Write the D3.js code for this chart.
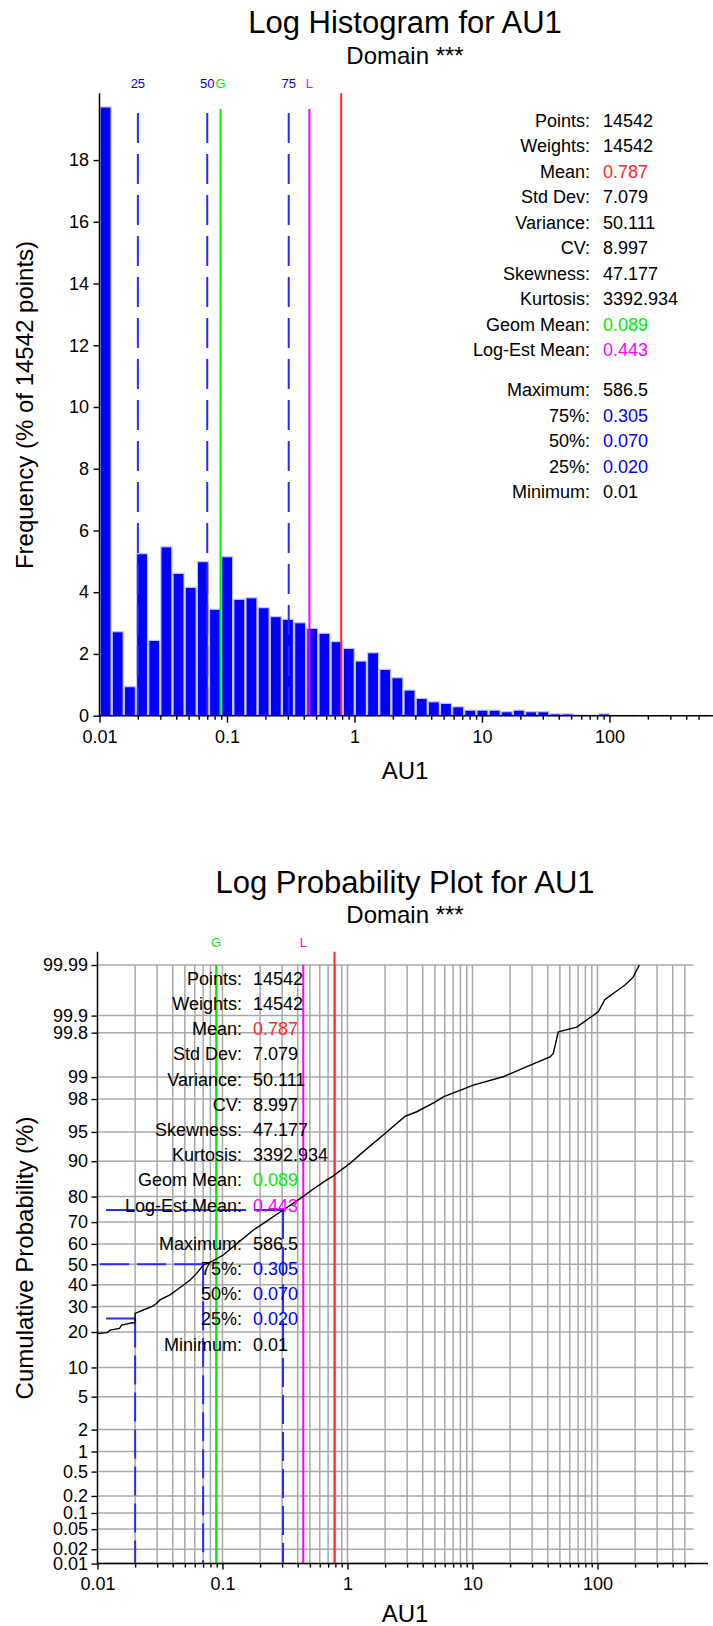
<!DOCTYPE html>
<html><head><meta charset="utf-8">
<script src="https://cdn.jsdelivr.net/npm/d3@7"></script>
<style>
body{margin:0;background:#fff;}
svg text{font-family:"Liberation Sans",Arial,Helvetica,sans-serif;fill:#000;}
</style></head><body>
<svg id="c" width="713" height="1626"></svg>
<script>
// ---------------- DATA ----------------
const varName = "AU1";
const domainLabel = "Domain ***";
const nPoints = 14542;
const dataMin = 0.01, dataMax = 586.5;
const binCount = 50;
// histogram frequencies (% of points) per log bin
const binFreq = [19.72, 2.72, 0.94, 5.25, 2.44, 5.47, 4.61, 4.16, 4.99, 3.45,
                 5.15, 3.77, 3.82, 3.50, 3.21, 3.12, 3.01, 2.83, 2.67, 2.40,
                 2.18, 1.77, 2.04, 1.50, 1.23, 0.83, 0.56, 0.45, 0.40, 0.29,
                 0.18, 0.18, 0.18, 0.13, 0.18, 0.13, 0.13, 0.06, 0.06, 0.02,
                 0.02, 0.06, 0.01, 0.01, 0, 0, 0.01, 0, 0, 0.01];
const histYTicks = [0, 2, 4, 6, 8, 10, 12, 14, 16, 18];
const xMajorTicks = [0.01, 0.1, 1, 10, 100];
const xMajorLabels = ["0.01", "0.1", "1", "10", "100"];

const statLabels = ["Points:", "Weights:", "Mean:", "Std Dev:", "Variance:", "CV:", "Skewness:",
                    "Kurtosis:", "Geom Mean:", "Log-Est Mean:", "Maximum:", "75%:", "50%:", "25%:", "Minimum:"];
const statValues = ["14542", "14542", "0.787", "7.079", "50.111", "8.997", "47.177",
                    "3392.934", "0.089", "0.443", "586.5", "0.305", "0.070", "0.020", "0.01"];
const statColorKeys = ["k", "k", "mean", "k", "k", "k", "k", "k", "geom", "logest", "k", "q", "q", "q", "k"];

const meanValue = 0.787, geomMean = 0.089, logEstMean = 0.443;
const quartileValues = [0.020, 0.070, 0.305];
const quartilePcts = [25, 50, 75];
const quartileLabels = ["25", "50", "75"];

// probability axis ticks (%)
const probTicks = [0.01, 0.02, 0.05, 0.1, 0.2, 0.5, 1, 2, 5, 10, 20, 30, 40, 50, 60, 70, 80, 90, 95, 98, 99, 99.8, 99.9, 99.99];
const probTickLabels = ["0.01", "0.02", "0.05", "0.1", "0.2", "0.5", "1", "2", "5", "10", "20", "30", "40", "50", "60", "70", "80", "90", "95", "98", "99", "99.8", "99.9", "99.99"];

// cumulative curve (value, cumulative %)
const cdfValue = [0.01, 0.012, 0.0126, 0.015, 0.0156, 0.019, 0.02, 0.02, 0.0232, 0.0271, 0.0298, 0.0316, 0.038, 0.043, 0.05, 0.055, 0.0622, 0.0702, 0.0819, 0.1014, 0.1296, 0.1766, 0.22, 0.27, 0.305, 0.336, 0.418, 0.52, 0.65, 0.77, 1.047, 1.25, 1.995, 2.884, 3.58, 5.01, 5.84, 10.15, 17.6, 25.5, 41.7, 44.3, 48.6, 68.2, 101.5, 114.8, 166, 193, 216];
const cdfPct   = [19.5, 19.8, 20.7, 21.3, 22.5, 23.4, 23.4, 27.1, 28.5, 29.9, 31.4, 32.9, 35.2, 37.5, 40.3, 42.3, 45.5, 49.6, 51.3, 54.6, 60.0, 66.5, 70.0, 73.2, 75.0, 76.3, 79.3, 82.2, 84.8, 86.4, 89.5, 91.3, 94.8, 96.7, 97.1, 97.8, 98.13, 98.70, 99.01, 99.26, 99.50, 99.56, 99.807, 99.84, 99.915, 99.95, 99.974, 99.982, 99.99];

// ---------------- STYLE ----------------
const COL = {k: "#000", mean: "#ff2a2a", geom: "#00ee00", logest: "#ff00ff", q: "#0000ff",
             dash: "#2a2aff", grid: "#a8a8a8", bar: "#0000ff", barEdge: "#c4c4ff"};

function qnorm(p) {
  const a = [-3.969683028665376e+01, 2.209460984245205e+02, -2.759285104469687e+02, 1.383577518672690e+02, -3.066479806614716e+01, 2.506628277459239e+00];
  const b = [-5.447609879822406e+01, 1.615858368580409e+02, -1.556989798598866e+02, 6.680131188771972e+01, -1.328068155288572e+01];
  const c = [-7.784894002430293e-03, -3.223964580411365e-01, -2.400758277161838e+00, -2.549732539343734e+00, 4.374664141464968e+00, 2.938163982698783e+00];
  const d = [7.784695709041462e-03, 3.224671290700398e-01, 2.445134137142996e+00, 3.754408661907416e+00];
  const pl = 0.02425, ph = 1 - pl;
  let q, r;
  if (p < pl) { q = Math.sqrt(-2 * Math.log(p)); return (((((c[0]*q+c[1])*q+c[2])*q+c[3])*q+c[4])*q+c[5]) / ((((d[0]*q+d[1])*q+d[2])*q+d[3])*q+1); }
  if (p > ph) { q = Math.sqrt(-2 * Math.log(1 - p)); return -(((((c[0]*q+c[1])*q+c[2])*q+c[3])*q+c[4])*q+c[5]) / ((((d[0]*q+d[1])*q+d[2])*q+d[3])*q+1); }
  q = p - 0.5; r = q * q;
  return (((((a[0]*r+a[1])*r+a[2])*r+a[3])*r+a[4])*r+a[5])*q / (((((b[0]*r+b[1])*r+b[2])*r+b[3])*r+b[4])*r+1);
}

const svg = d3.select("#c");
const isMajor = v => Math.abs(Math.log10(v) - Math.round(Math.log10(v))) < 1e-9;

function styleAxis(g, size) {
  g.select(".domain").remove();
  g.attr("font-family", null).attr("font-size", size);
  g.selectAll(".tick line").attr("stroke", "#000").attr("stroke-width", 1.4);
  g.selectAll(".tick text").attr("fill", "#000");
}

function drawStats(g, xColon, xVal, y0, step, gap) {
  statLabels.forEach((lab, i) => {
    const y = y0 + i * step + (i >= 10 ? gap : 0);
    g.append("text").attr("x", xColon).attr("y", y).attr("text-anchor", "end")
      .attr("font-size", 18).text(lab);
    g.append("text").attr("x", xVal).attr("y", y).attr("font-size", 18)
      .style("fill", COL[statColorKeys[i]]).text(statValues[i]);
  });
}

// ================= HISTOGRAM =================
(function () {
  const x = d3.scaleLog().domain([dataMin, dataMax]).range([99.5, 707.4]);
  const y = d3.scaleLinear().domain([0, 20]).range([715.7, 98.3]);
  const g = svg.append("g");
  const binEdges = d3.range(binCount + 1).map(k => dataMin * Math.pow(dataMax / dataMin, k / binCount));
  const bins = binFreq.map((f, i) => ({x0: binEdges[i], x1: binEdges[i + 1], f}));

  g.append("text").attr("x", 405).attr("y", 33).attr("text-anchor", "middle")
    .attr("font-size", 31).text(`Log Histogram for ${varName}`);
  g.append("text").attr("x", 405).attr("y", 64).attr("text-anchor", "middle")
    .attr("font-size", 24).text(domainLabel);

  g.append("g").selectAll("rect").data(bins.filter(b => b.f > 0)).join("rect")
    .attr("x", d => x(d.x0) + 0.6).attr("width", d => x(d.x1) - x(d.x0) - 1.2)
    .attr("y", d => y(d.f)).attr("height", d => y(0) - y(d.f))
    .attr("fill", COL.bar).attr("stroke", COL.barEdge).attr("stroke-width", 1.2);

  // quartile dashed lines
  quartileValues.forEach((v, i) => {
    g.append("line").attr("x1", x(v)).attr("x2", x(v)).attr("y1", 113).attr("y2", y(0))
      .attr("stroke", COL.dash).attr("stroke-width", 2).attr("stroke-dasharray", "30,11");
    g.append("text").attr("x", x(v)).attr("y", 88).attr("text-anchor", "middle")
      .attr("font-size", 13).style("fill", COL.q).text(quartileLabels[i]);
  });
  // geom / log-est / mean
  [[geomMean, COL.geom, "G", 109], [logEstMean, COL.logest, "L", 109], [meanValue, COL.mean, null, 93.3]]
    .forEach(([v, c, lab, top]) => {
      g.append("line").attr("x1", x(v)).attr("x2", x(v)).attr("y1", top).attr("y2", y(0))
        .attr("stroke", c).attr("stroke-width", 2);
      if (lab) g.append("text").attr("x", x(v)).attr("y", 88).attr("text-anchor", "middle")
        .attr("font-size", 13).style("fill", c).text(lab);
    });

  // axes
  g.append("line").attr("x1", 99.5).attr("x2", 99.5).attr("y1", 93.3).attr("y2", y(0))
    .attr("stroke", "#000").attr("stroke-width", 1.5);
  g.append("line").attr("x1", 99.5).attr("x2", 713).attr("y1", y(0)).attr("y2", y(0))
    .attr("stroke", "#000").attr("stroke-width", 1.5);
  const ya = g.append("g").attr("transform", "translate(99.5,0)")
    .call(d3.axisLeft(y).tickValues(histYTicks).tickSize(6).tickPadding(4.5));
  styleAxis(ya, 18);
  const minor = x.ticks().filter(v => !isMajor(v));
  const xm = g.append("g").attr("transform", `translate(0,${y(0)})`)
    .call(d3.axisBottom(x).tickValues(minor).tickSize(4).tickFormat(""));
  styleAxis(xm, 18);
  const xM = g.append("g").attr("transform", `translate(0,${y(0)})`)
    .call(d3.axisBottom(x).tickValues(xMajorTicks).tickSize(7).tickPadding(7.5)
      .tickFormat((d, i) => xMajorLabels[i]));
  styleAxis(xM, 18);

  g.append("text").attr("x", 405).attr("y", 779).attr("text-anchor", "middle")
    .attr("font-size", 24).text(varName);
  g.append("text").attr("transform", "translate(33,405) rotate(-90)").attr("text-anchor", "middle")
    .attr("font-size", 24).text(`Frequency (% of ${nPoints} points)`);

  drawStats(g, 590, 603, 126.5, 25.5, 14.5);
})();

// ================= PROBABILITY PLOT =================
(function () {
  const x = d3.scaleLog().domain([dataMin, dataMax]).range([97.5, 693.5]);
  const z = d3.scaleLinear().domain([qnorm(0.0001), qnorm(0.9999)]).range([1563.6, 965]);
  const y = p => z(qnorm(p / 100));
  const g = svg.append("g");
  const yBot = y(0.01), yTop = y(99.99);

  g.append("text").attr("x", 405).attr("y", 893).attr("text-anchor", "middle")
    .attr("font-size", 31).text(`Log Probability Plot for ${varName}`);
  g.append("text").attr("x", 405).attr("y", 923).attr("text-anchor", "middle")
    .attr("font-size", 24).text(domainLabel);

  // grid
  const gridX = x.ticks().filter(v => v > dataMin * 1.0001);
  g.append("g").selectAll("line").data(gridX).join("line")
    .attr("x1", d => x(d)).attr("x2", d => x(d)).attr("y1", yTop).attr("y2", yBot)
    .attr("stroke", COL.grid).attr("stroke-width", 1.5);
  g.append("g").selectAll("line").data(probTicks).join("line")
    .attr("x1", x(dataMin)).attr("x2", x(dataMax)).attr("y1", d => y(d)).attr("y2", d => y(d))
    .attr("stroke", COL.grid).attr("stroke-width", 1.5);

  // marker lines
  [[geomMean, COL.geom, "G", yTop], [logEstMean, COL.logest, "L", yTop], [meanValue, COL.mean, null, 951.7]]
    .forEach(([v, c, lab, top]) => {
      g.append("line").attr("x1", x(v)).attr("x2", x(v)).attr("y1", top).attr("y2", yBot)
        .attr("stroke", c).attr("stroke-width", 2);
      if (lab) g.append("text").attr("x", x(v)).attr("y", 947).attr("text-anchor", "middle")
        .attr("font-size", 13).style("fill", c).text(lab);
    });

  // quartile lines
  quartileValues.forEach((v, i) => {
    const px = x(v), py = y(quartilePcts[i]);
    g.append("line").attr("x1", px).attr("x2", x(dataMin)).attr("y1", py).attr("y2", py)
      .attr("stroke", COL.dash).attr("stroke-width", 2).attr("stroke-dasharray", "29,8");
    g.append("line").attr("x1", px).attr("x2", px).attr("y1", py).attr("y2", yBot)
      .attr("stroke", COL.dash).attr("stroke-width", 2).attr("stroke-dasharray", "29,8");
  });

  // curve
  const pts = cdfValue.map((v, i) => [v, cdfPct[i]]);
  g.append("path").datum(pts)
    .attr("d", d3.line().x(d => x(d[0])).y(d => y(d[1])))
    .attr("fill", "none").attr("stroke", "#000").attr("stroke-width", 1.4);

  // axes
  g.append("line").attr("x1", 97.5).attr("x2", 97.5).attr("y1", 951.7).attr("y2", yBot)
    .attr("stroke", "#000").attr("stroke-width", 1.5);
  g.append("line").attr("x1", 97.5).attr("x2", 708).attr("y1", yBot).attr("y2", yBot)
    .attr("stroke", "#000").attr("stroke-width", 1.5);
  const pyScale = d3.scaleLinear().domain([0, 1]).range([0, 1]);
  const ya = g.append("g").attr("transform", "translate(97.5,0)")
    .call(d3.axisLeft(d3.scaleIdentity()).tickValues(probTicks.map(p => y(p))).tickSize(6).tickPadding(3.5)
      .tickFormat((d, i) => probTickLabels[i]));
  styleAxis(ya, 18);
  const minor = x.ticks().filter(v => !isMajor(v));
  const xm = g.append("g").attr("transform", `translate(0,${yBot})`)
    .call(d3.axisBottom(x).tickValues(minor).tickSize(4).tickFormat(""));
  styleAxis(xm, 18);
  const xM = g.append("g").attr("transform", `translate(0,${yBot})`)
    .call(d3.axisBottom(x).tickValues(xMajorTicks).tickSize(6).tickPadding(8)
      .tickFormat((d, i) => xMajorLabels[i]));
  styleAxis(xM, 18);

  g.append("text").attr("x", 405).attr("y", 1622).attr("text-anchor", "middle")
    .attr("font-size", 24).text(varName);
  g.append("text").attr("transform", "translate(33,1258) rotate(-90)").attr("text-anchor", "middle")
    .attr("font-size", 24).text("Cumulative Probability (%)");

  drawStats(g, 242, 253, 984.8, 25.2, 13);
})();
</script>
</body></html>
